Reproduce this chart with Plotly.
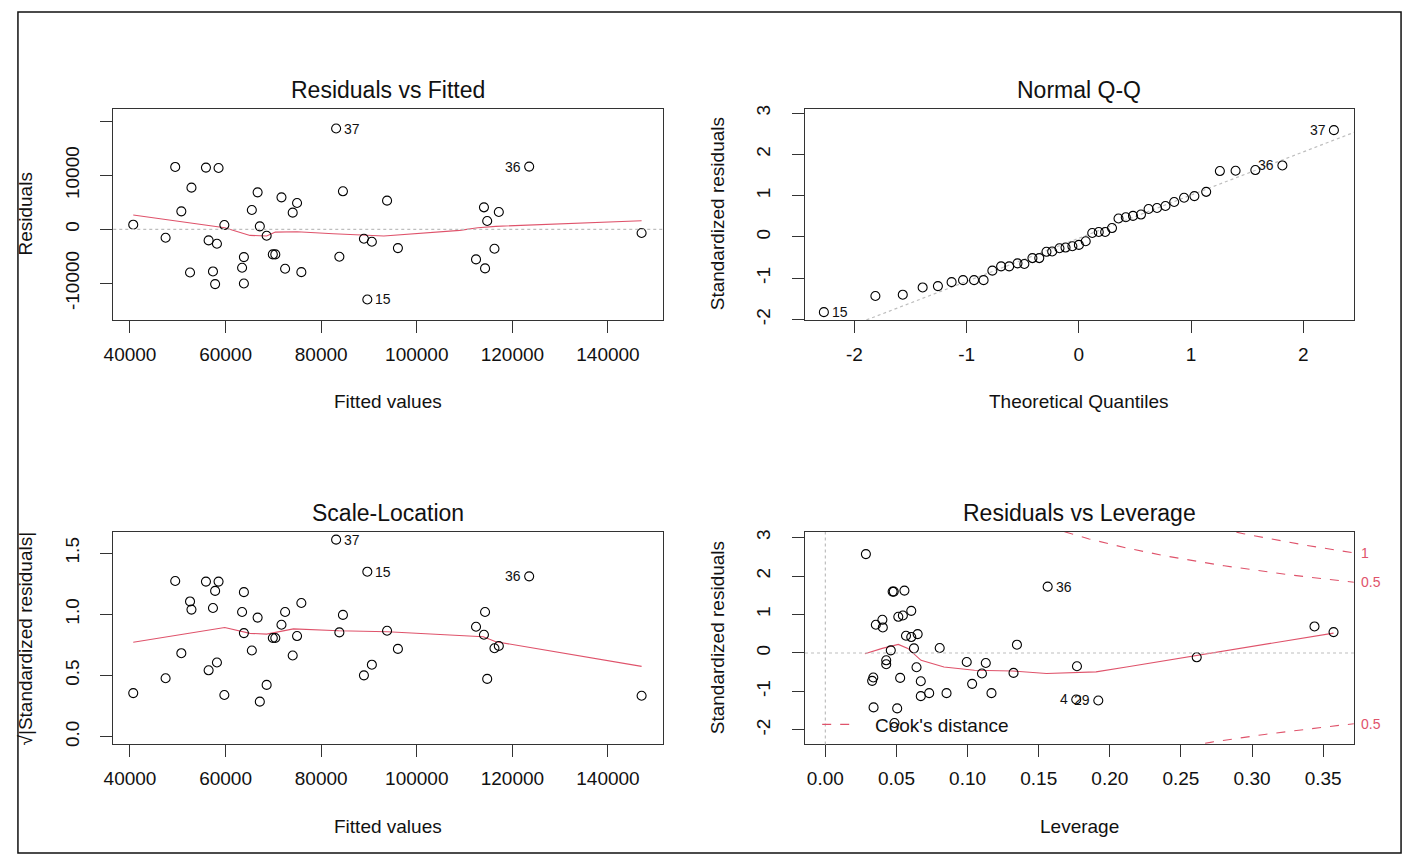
import numpy as np
import plotly.graph_objects as go

# ---------------- data ----------------
# Residuals vs Fitted / Scale-Location (same observations, same order)
fitted = [40680, 47450, 49460, 50740, 52860, 52560, 55890, 56450, 57360, 57810,
          58190, 58530, 59740, 63450, 63830, 63830, 65490, 66700, 67160, 68590,
          69880, 70400, 71690, 72450, 74040, 74950, 75850, 83120, 83800, 84550,
          88940, 89650, 90600, 93780, 96050, 112390, 114050, 114280, 114730, 116250,
          117160, 123510, 147030]
residuals = [870, -1550, 11580, 3340, 7740, -7990, 11460, -2040, -7800, -10150,
             -2660, 11390, 800, -7120, -5140, -10030, 3590, 6870, 560, -1180,
             -4640, -4640, 5940, -7310, 3100, 4890, -7930, 18700, -5080, 7060,
             -1730, -13000, -2290, 5330, -3470, -5570, 4090, -7240, 1550, -3590,
             3220, 11640, -680]
sqrt_abs_std_resid = [0.356, 0.477, 1.272, 0.682, 1.038, 1.105, 1.267, 0.542, 1.051, 1.191,
                      0.606, 1.267, 0.340, 1.019, 0.846, 1.181, 0.704, 0.973, 0.286, 0.423,
                      0.806, 0.806, 0.914, 1.019, 0.663, 0.822, 1.092, 1.610, 0.852, 0.995,
                      0.501, 1.348, 0.588, 0.865, 0.717, 0.898, 0.833, 1.019, 0.472, 0.722,
                      0.741, 1.310, 0.334]
fitted_label_idx = [27, 31, 41]
fitted_label_txt = ["37", "15", "36"]

# lowess smoothers
rf_smooth_x = [40680, 59820, 65110, 68590, 70400, 74950, 82520, 89320, 93100, 108990, 112770, 116550, 147030]
rf_smooth_y = [2660, 310, -1120, -1240, -500, -430, -800, -1110, -1240, -190, 310, 560, 1610]
sl_smooth_x = [40680, 59820, 65110, 68590, 74190, 83650, 93860, 108990, 113900, 116550, 147030]
sl_smooth_y = [0.771, 0.892, 0.844, 0.838, 0.881, 0.865, 0.857, 0.830, 0.817, 0.776, 0.574]

# Normal Q-Q
theoretical_q = [-2.272, -1.813, -1.569, -1.392, -1.256, -1.134, -1.032, -0.934, -0.849, -0.771,
                 -0.693, -0.621, -0.547, -0.486, -0.414, -0.353, -0.289, -0.238, -0.173, -0.119,
                 -0.058, 0.000, 0.061, 0.119, 0.177, 0.234, 0.295, 0.353, 0.418, 0.482,
                 0.553, 0.621, 0.696, 0.771, 0.849, 0.937, 1.029, 1.134, 1.256, 1.396,
                 1.572, 1.813, 2.272]
sample_q = [-1.821, -1.430, -1.398, -1.222, -1.190, -1.094, -1.046, -1.046, -1.046, -0.815,
            -0.711, -0.711, -0.639, -0.655, -0.511, -0.511, -0.359, -0.351, -0.272, -0.256,
            -0.224, -0.192, -0.104, 0.096, 0.120, 0.120, 0.216, 0.447, 0.479, 0.511,
            0.543, 0.679, 0.703, 0.751, 0.847, 0.950, 0.990, 1.094, 1.597, 1.605,
            1.621, 1.733, 2.588]
qq_label_idx = [0, 41, 42]
qq_label_txt = ["15", "36", "37"]
qq_line_intercept = -0.03
qq_line_slope = 1.046

# Residuals vs Leverage
leverage = [0.0285, 0.0329, 0.0337, 0.0339, 0.0355, 0.0401, 0.0404, 0.0428, 0.0428, 0.0460,
            0.0473, 0.0481, 0.0486, 0.0505, 0.0513, 0.0526, 0.0545, 0.0556, 0.0567, 0.0604,
            0.0604, 0.0623, 0.0641, 0.0649, 0.0671, 0.0671, 0.0730, 0.0804, 0.0852, 0.0994,
            0.1032, 0.1101, 0.1128, 0.1168, 0.1323, 0.1347, 0.1563, 0.1764, 0.1769, 0.1919,
            0.2611, 0.3439, 0.3573]
std_resid_lev = [2.57, -0.724, -0.638, -1.414, 0.733, 0.862, 0.664, -0.190, -0.293, 0.069,
                 1.595, 1.595, -1.82, -1.440, 0.940, -0.647, 0.974, 1.621, 0.448, 1.095,
                 0.414, 0.121, -0.371, 0.491, -0.733, -1.121, -1.043, 0.129, -1.043, -0.233,
                 -0.802, -0.534, -0.259, -1.043, -0.517, 0.216, 1.724, -1.207, -0.345, -1.233,
                 -0.112, 0.690, 0.543]
lev_label_idx = [36, 37, 39]
lev_label_txt = ["36", "4", "29"]
lev_smooth_x = [0.0278, 0.0400, 0.0513, 0.0580, 0.0673, 0.0834, 0.1048, 0.1315, 0.1555, 0.1903, 0.2117, 0.2611, 0.3573]
lev_smooth_y = [-0.017, 0.12, 0.224, 0.12, -0.19, -0.362, -0.448, -0.466, -0.534, -0.491, -0.362, -0.06, 0.517]
cook_levels = [0.5, 1.0]
n_params = 4

# tick labels
fit_ticks = [40000, 60000, 80000, 100000, 120000, 140000]
fit_ticktext = ["40000", "60000", "80000", "100000", "120000", "140000"]
res_ticks = [-10000, 0, 10000, 20000]
res_ticktext = ["-10000", "0", "10000", ""]
qqx_ticks = [-2, -1, 0, 1, 2]
qqx_ticktext = ["-2", "-1", "0", "1", "2"]
std_ticks = [-2, -1, 0, 1, 2, 3]
std_ticktext = ["-2", "-1", "0", "1", "2", "3"]
sl_ticks = [0, 0.5, 1.0, 1.5]
sl_ticktext = ["0.0", "0.5", "1.0", "1.5"]
lev_ticks = [0, 0.05, 0.10, 0.15, 0.20, 0.25, 0.30, 0.35]
lev_ticktext = ["0.00", "0.05", "0.10", "0.15", "0.20", "0.25", "0.30", "0.35"]

# ---------------- styling ----------------
W, H = 1408, 861
FONT = "Liberation Sans, Arial, Helvetica, sans-serif"
RED = "#DF536B"
GRAY = "#BEBEBE"
AX = "#333333"

xL = [104 / W, 657.3 / W]
xR = [800.7 / W, 1353.5 / W]
yT = [1 - 319.3 / H, 1 - 105.7 / H]
yB = [1 - 748.3 / H, 1 - 533.5 / H]

fig = go.Figure()

marker = dict(symbol="circle-open", size=9, color="black", line=dict(width=1.1, color="black"))

def pts(x, y, n):
    fig.add_trace(go.Scatter(x=x, y=y, mode="markers", marker=marker,
                             xaxis=f"x{n}", yaxis=f"y{n}", hoverinfo="skip", cliponaxis=False))

def smooth(x, y, n):
    fig.add_trace(go.Scatter(x=x, y=y, mode="lines", line=dict(color=RED, width=1.1),
                             xaxis=f"x{n}", yaxis=f"y{n}", hoverinfo="skip"))

# panel 1
fig.add_shape(type="line", xref="x domain", yref="y", x0=0, x1=1, y0=0, y1=0,
              line=dict(color=GRAY, width=1.2, dash="dot"))
smooth(rf_smooth_x, rf_smooth_y, "")
pts(fitted, residuals, "")

# panel 2
x2_range = [-2.44, 2.45]
qx = np.linspace(x2_range[0] - 0.5, x2_range[1] + 0.5, 50)
fig.add_trace(go.Scatter(x=qx, y=qq_line_intercept + qq_line_slope * qx, mode="lines",
                         line=dict(color=GRAY, width=1.2, dash="dot"),
                         xaxis="x2", yaxis="y2", hoverinfo="skip"))
pts(theoretical_q, sample_q, "2")

# panel 3
smooth(sl_smooth_x, sl_smooth_y, "3")
pts(fitted, sqrt_abs_std_resid, "3")

# panel 4
x4_range = [-0.0143, 0.3716]
y4_range = [-2.377, 3.146]
fig.add_shape(type="line", xref="x4 domain", yref="y4", x0=0, x1=1, y0=0, y1=0,
              line=dict(color=GRAY, width=1.2, dash="dot"))
fig.add_shape(type="line", xref="x4", yref="y4 domain", x0=0, x1=0, y0=0, y1=1,
              line=dict(color=GRAY, width=1.2, dash="dot"))
hh = np.linspace(0.003, x4_range[1], 300)
for c in cook_levels:
    for sgn in (1, -1):
        fig.add_trace(go.Scatter(x=hh, y=sgn * np.sqrt(c * n_params * (1 - hh) / hh), mode="lines",
                                 line=dict(color=RED, width=1.1, dash="dash"),
                                 xaxis="x4", yaxis="y4", hoverinfo="skip"))
        yv = sgn * np.sqrt(c * n_params * (1 - x4_range[1]) / x4_range[1])
        if y4_range[0] < yv < y4_range[1]:
            fig.add_annotation(xref="x4 domain", yref="y4", x=1, y=yv, xshift=5, xanchor="left",
                               yanchor="middle", showarrow=False, text=f"{c:g}",
                               font=dict(size=14, color=RED, family=FONT))
smooth(lev_smooth_x, lev_smooth_y, "4")
pts(leverage, std_resid_lev, "4")

# point id labels
def id_labels(xs, ys, idx, txt, n):
    lx = [xs[i] for i in idx]
    mid = (min(lx) + max(lx)) / 2
    for i, t in zip(idx, txt):
        right = xs[i] <= mid
        fig.add_annotation(xref=f"x{n}", yref=f"y{n}", x=xs[i], y=ys[i], text=t, showarrow=False,
                           xanchor="left" if right else "right", yanchor="middle",
                           xshift=6 if right else -6,
                           font=dict(size=14, color="#111", family=FONT))

id_labels(fitted, residuals, fitted_label_idx, fitted_label_txt, "")
id_labels(theoretical_q, sample_q, qq_label_idx, qq_label_txt, "2")
id_labels(fitted, sqrt_abs_std_resid, fitted_label_idx, fitted_label_txt, "3")
id_labels(leverage, std_resid_lev, lev_label_idx, lev_label_txt, "4")

# Cook's distance legend
fig.add_shape(type="line", xref="paper", yref="paper", x0=818 / W, x1=850 / W,
              y0=1 - 728 / H, y1=1 - 728 / H, line=dict(color=RED, width=1.1, dash="dash"))
fig.add_annotation(xref="paper", yref="paper", x=869 / W, y=1 - 729 / H, xanchor="left",
                   yanchor="middle", showarrow=False, text="Cook's distance",
                   font=dict(size=19, color="#111", family=FONT))

# titles & axis titles
titles = ["Residuals vs Fitted", "Normal Q-Q", "Scale-Location", "Residuals vs Leverage"]
xtitles = ["Fitted values", "Theoretical Quantiles", "Fitted values", "Leverage"]
ytitles = ["Residuals", "Standardized residuals", "√|Standardized residuals|", "Standardized residuals"]
for k, n in enumerate(["", "2", "3", "4"]):
    fig.add_annotation(xref=f"x{n} domain", yref=f"y{n} domain", x=0.5, y=1, yshift=19,
                       xanchor="center", yanchor="middle", showarrow=False, text=titles[k],
                       font=dict(size=23, color="#111", family=FONT))
    fig.add_annotation(xref=f"x{n} domain", yref=f"y{n} domain", x=0.5, y=0, yshift=-82,
                       xanchor="center", yanchor="middle", showarrow=False, text=xtitles[k],
                       font=dict(size=19, color="#111", family=FONT))
    fig.add_annotation(xref=f"x{n} domain", yref=f"y{n} domain", x=0, y=0.5, xshift=-88,
                       xanchor="center", yanchor="middle", showarrow=False, text=ytitles[k],
                       textangle=-90, font=dict(size=19, color="#111", family=FONT))

# outer border
fig.add_shape(type="rect", xref="paper", yref="paper", x0=8 / W, x1=1401 / W, y0=1 - 858 / H, y1=1 - 8 / H,
              line=dict(color="#111", width=1.5))

common = dict(showline=True, mirror=True, linecolor=AX, linewidth=1, ticks="outside", ticklen=12,
              tickwidth=1, tickcolor=AX, showgrid=False, zeroline=False,
              tickfont=dict(size=19, color="#111", family=FONT))
xc = dict(common, ticklabelstandoff=5)
yc = dict(common, tickangle=-90, ticklabelstandoff=14)

fig.update_layout(
    width=W, height=H, margin=dict(l=0, r=0, t=0, b=0),
    paper_bgcolor="white", plot_bgcolor="white", showlegend=False,
    font=dict(family=FONT, color="#111"),
    xaxis=dict(xc, domain=xL, anchor="y", range=[36500, 151430], tickvals=fit_ticks, ticktext=fit_ticktext),
    yaxis=dict(yc, domain=yT, anchor="x", range=[-16800, 22400], tickvals=res_ticks, ticktext=res_ticktext),
    xaxis2=dict(xc, domain=xR, anchor="y2", range=x2_range, tickvals=qqx_ticks, ticktext=qqx_ticktext),
    yaxis2=dict(yc, domain=yT, anchor="x2", range=[-2.01, 3.11], tickvals=std_ticks, ticktext=std_ticktext),
    xaxis3=dict(xc, domain=xL, anchor="y3", range=[36500, 151430], tickvals=fit_ticks, ticktext=fit_ticktext),
    yaxis3=dict(yc, domain=yB, anchor="x3", range=[-0.064, 1.673], tickvals=sl_ticks, ticktext=sl_ticktext),
    xaxis4=dict(xc, domain=xR, anchor="y4", range=x4_range, tickvals=lev_ticks, ticktext=lev_ticktext),
    yaxis4=dict(yc, domain=yB, anchor="x4", range=y4_range, tickvals=std_ticks, ticktext=std_ticktext),
)

fig.write_html("out.html")
